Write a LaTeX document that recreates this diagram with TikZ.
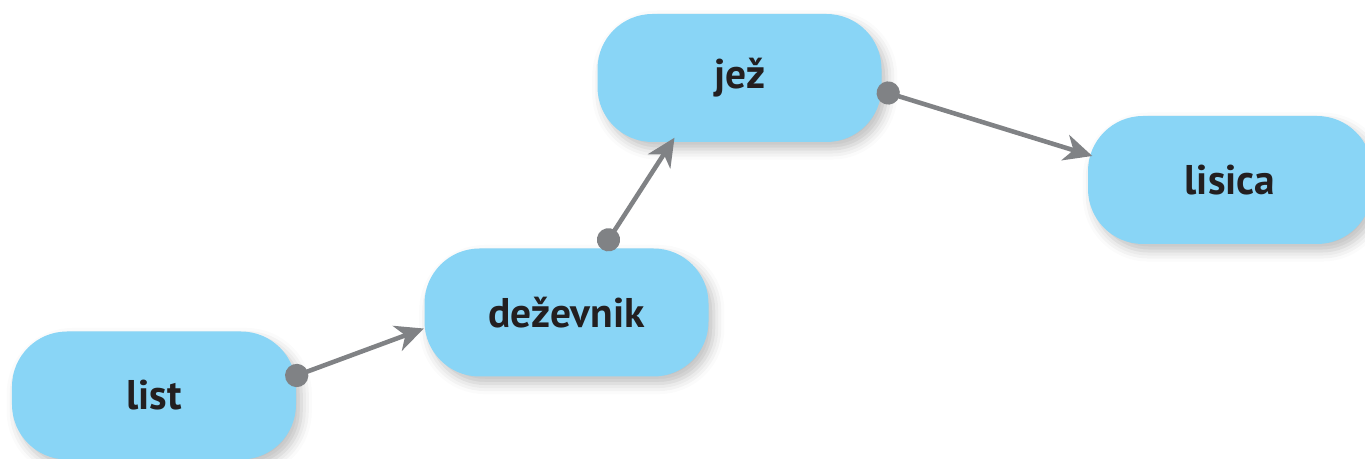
\documentclass[tikz,border=0pt]{standalone}
\usepackage{fontspec}
\setmainfont{PT Sans}
\usepackage{xcolor}
\definecolor{chainblue}{HTML}{89D5F6}
\definecolor{chaingray}{HTML}{808285}
\definecolor{chaintext}{HTML}{231F20}
\usepackage{tikz}
\usetikzlibrary{arrows.meta,positioning,shadows.blur}

\begin{document}
\begin{tikzpicture}[
  font=\fontsize{11.8}{13}\selectfont\bfseries,
  box/.style={rectangle, rounded corners=0.55cm, fill=chainblue, text=chaintext,
              minimum width=2.84cm, minimum height=1.28cm, align=center,
              blur shadow={shadow xshift=1.5pt, shadow yshift=-2pt,
                           shadow blur radius=3pt, shadow opacity=25}},
  link/.style={{Circle[length=6.6pt]}-{Stealth[length=8pt, width=7.5pt, inset=2.4pt]},
               line width=1.3pt, chaingray, shorten <=-3.3pt},
]
\useasboundingbox (0,0) rectangle (13.65,4.59);

% ---------- the four links of the chain
\node[box] (list)   at (1.54,0.635) {list};
\node[box] (dez)    at (5.665,1.465) {deževnik};
\node[box] (jez)    at (7.395,3.81)  {jež};
\node[box] (lisica) at (12.30,2.79)  {lisica};

% ---------- who is eaten by whom
\draw[link] ([yshift=2mm]list.east) -- ([yshift=-1.6mm]dez.west);
\draw[link] ([xshift=4.2mm, yshift=0.8mm]dez.north) -- ([xshift=-6.5mm, yshift=0.5mm]jez.south);
\draw[link] ([xshift=0.6mm, yshift=-1.5mm]jez.east) -- ([xshift=0.5mm, yshift=2.4mm]lisica.west);
\end{tikzpicture}
\end{document}
